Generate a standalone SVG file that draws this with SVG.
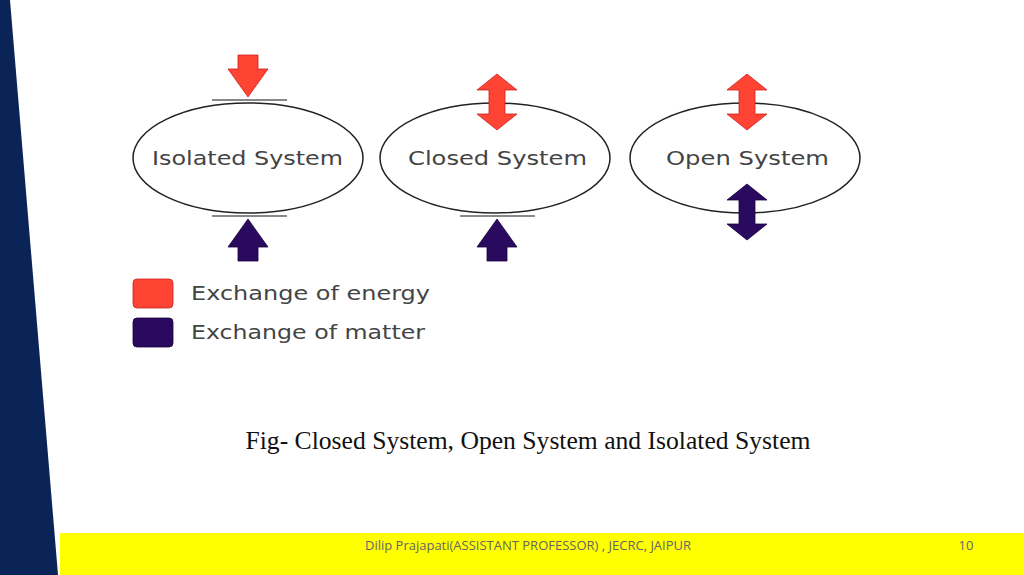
<svg xmlns="http://www.w3.org/2000/svg" width="1024" height="575" viewBox="0 0 1024 575">
<defs>
<style>
.ell{fill:#fff;stroke:#222;stroke-width:1.5}
.lbl{font-family:"DejaVu Sans",Verdana,sans-serif;font-size:19px;fill:#444}
.bar{stroke:#888;stroke-width:2}
.red{fill:#ff4433;stroke:#c22;stroke-width:0.8}
.pur{fill:#2a0a5e;stroke:#1a0040;stroke-width:0.8}
</style>
<path id="down" d="M-10,-42 H10 V-28 H20 L0,0 L-20,-28 H-10 Z"/>
<path id="dbl" d="M0,-28 L20,-12 H8 V12 H20 L0,28 L-20,12 H-8 V-12 H-20 Z"/>
</defs>
<rect width="1024" height="575" fill="#fff"/>
<polygon points="0,0 10,0 58,575 0,575" fill="#0a2458"/>
<rect x="60" y="533" width="964" height="42" fill="#ffff00"/>
<text x="528" y="550" font-family="'Open Sans',sans-serif" font-size="13" fill="#666" text-anchor="middle">Dilip Prajapati(ASSISTANT PROFESSOR) , JECRC, JAIPUR</text>
<text x="966" y="550" font-family="'Open Sans',sans-serif" font-size="13" fill="#666" text-anchor="middle">10</text>
<g id="isolated">
<ellipse class="ell" cx="248" cy="158" rx="115" ry="55"/>
<text class="lbl" x="152" y="165" textLength="191" lengthAdjust="spacingAndGlyphs">Isolated System</text>
<line class="bar" x1="212" y1="100" x2="287" y2="100"/>
<line class="bar" x1="212" y1="216" x2="287" y2="216"/>
<use href="#down" class="red" transform="translate(248,97)"/>
<use href="#down" class="pur" transform="translate(248,219) scale(1,-1)"/>
</g>
<g id="closed">
<ellipse class="ell" cx="495" cy="158" rx="115" ry="55"/>
<text class="lbl" x="408" y="165" textLength="179" lengthAdjust="spacingAndGlyphs">Closed System</text>
<line class="bar" x1="460" y1="216" x2="535" y2="216"/>
<use href="#dbl" class="red" transform="translate(497,102)"/>
<use href="#down" class="pur" transform="translate(497,219) scale(1,-1)"/>
</g>
<g id="open">
<ellipse class="ell" cx="745" cy="158" rx="115" ry="55"/>
<text class="lbl" x="666" y="165" textLength="163" lengthAdjust="spacingAndGlyphs">Open System</text>
<use href="#dbl" class="red" transform="translate(747,102)"/>
<use href="#dbl" class="pur" transform="translate(747,212)"/>
</g>
<g id="legend">
<rect x="133" y="279" width="40" height="29" rx="4" class="red"/>
<rect x="133" y="318" width="40" height="29" rx="4" class="pur"/>
<text class="lbl" x="191" y="300" textLength="239" lengthAdjust="spacingAndGlyphs">Exchange of energy</text>
<text class="lbl" x="191" y="339" textLength="234" lengthAdjust="spacingAndGlyphs">Exchange of matter</text>
</g>
<text x="528" y="449" font-family="'Liberation Serif','Times New Roman',serif" font-size="26" fill="#111" text-anchor="middle" textLength="565" lengthAdjust="spacingAndGlyphs">Fig- Closed System, Open System and Isolated System</text>
</svg>
